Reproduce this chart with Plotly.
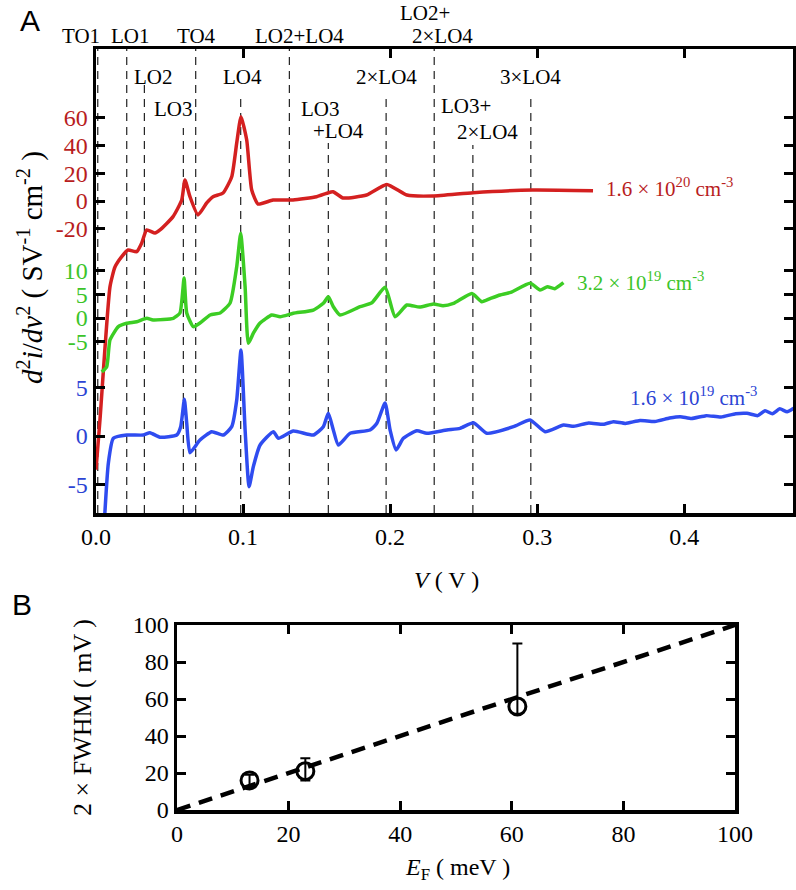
import plotly.graph_objects as go

W, H = 796, 890

# ---------------- Panel A data (physical units) ----------------
V_red = [0.0, 0.0027, 0.0095, 0.0129, 0.0175, 0.0218, 0.0277, 0.0311, 0.0345, 0.0401, 0.0435,
         0.0524, 0.0583, 0.0605, 0.0639, 0.0694, 0.0753, 0.0796, 0.0864, 0.0923, 0.0957, 0.0986,
         0.1025, 0.1059, 0.1102, 0.1204, 0.134, 0.150, 0.157, 0.1612, 0.168, 0.184, 0.1978,
         0.2114, 0.229, 0.2565, 0.297, 0.338]
I_red = [-194, -158, -62, -47.7, -40.2, -35.4, -36.6, -30.3, -20.9, -23.1, -20.9,
         -11.3, 0.7, 15.2, 3.1, -10.1, -1.4, 3.1, 5.8, 17.5, 41.9, 60.9,
         44, 7.9, -2.2, 0.7, 0.7, 3.1, 5.6, 6.7, 2.2, 4.3, 12,
         4.3, 3.6, 6.0, 7.9, 7.4]

V_green = [0.0039, 0.0073, 0.0095, 0.0152, 0.0209, 0.0277, 0.0345, 0.0388, 0.0526, 0.0571, 0.0599,
           0.0617, 0.0662, 0.0707, 0.0776, 0.0844, 0.0912, 0.0957, 0.0984, 0.1014, 0.1036, 0.1071,
           0.1116, 0.1195, 0.1252, 0.1342, 0.1478, 0.1546, 0.158, 0.1614, 0.166, 0.1796, 0.1876,
           0.1966, 0.2034, 0.2114, 0.22, 0.2295, 0.236, 0.2431, 0.2556, 0.2624, 0.268, 0.2748,
           0.282, 0.2952, 0.302, 0.307, 0.312, 0.3179]
I_green = [-11.4, -10.3, -4.65, -1.84, -1.12, -0.78, -0.06, -0.42, -0.06, 1.06, 8.46,
           1.06, -1.84, -1.06, 0.63, 1.06, 3.17, 10.85, 17.9, 6.6, -5.35, -3.17,
           -1.06, 0.63, 0.27, 0.99, 1.69, 3.1, 4.5, 2.39, 0.63, 2.39, 3.23,
           6.5, 0.27, 2.75, 2.3, 2.96, 2.6, 3.1, 5.2, 3.45, 4.1, 4.86,
           5.4, 7.34, 5.92, 6.6, 6.2, 7.46]

V_blue = [0.0045, 0.0084, 0.0118, 0.0209, 0.0322, 0.0367, 0.0435, 0.0549, 0.0576, 0.0601, 0.0617,
          0.0639, 0.0707, 0.0787, 0.0866, 0.0923, 0.0957, 0.0986, 0.1014, 0.1041, 0.107, 0.1116,
          0.1206, 0.124, 0.1342, 0.1478, 0.1546, 0.158, 0.1614, 0.1648, 0.1728, 0.1864, 0.191,
          0.1966, 0.2, 0.2041, 0.209, 0.2182, 0.225, 0.2386, 0.2476, 0.2567, 0.2658, 0.2839,
          0.2952, 0.3054, 0.3179, 0.325, 0.335, 0.345, 0.3519, 0.36, 0.37, 0.38, 0.39, 0.3973,
          0.405, 0.415, 0.425, 0.435, 0.4427, 0.45, 0.455, 0.46, 0.465, 0.47, 0.4744]
I_blue = [-12, -2.81, -0.24, 0.1, 0.1, 0.34, -0.13, 0.1, 0.96, 3.78, 1.31,
          -1.72, -0.41, 0.44, 0.1, 0.96, 3.71, 8.87, 0.62, -5.23, -3.16, -0.93,
          0.44, -0.24, 0.52, 0.1, 0.96, 2.34, 0.62, -0.93, 0.28, 0.62, 1.31,
          3.4, 0.62, -1.44, -0.24, 0.55, 0.28, 0.62, 0.79, 1.37, 0.28, 0.96,
          1.65, 0.44, 1.13, 1.0, 1.35, 1.2, 1.47, 1.3, 1.6, 1.5, 1.85, 1.99,
          1.8, 2.1, 1.95, 2.3, 2.34, 2.1, 2.6, 2.3, 2.8, 2.5, 2.86]

series_labels = ["1.6 × 10<sup>20</sup> cm<sup>-3</sup>",
                 "3.2 × 10<sup>19</sup> cm<sup>-3</sup>",
                 "1.6 × 10<sup>19</sup> cm<sup>-3</sup>"]
red_ticks = [-20, 0, 20, 40, 60]
green_ticks = [-5, 0, 5, 10]
blue_ticks = [-5, 0, 5]

# phonon mode energies (V) and labels
mode_V = [0.0012, 0.0209, 0.0329, 0.0594, 0.0678, 0.0984, 0.1315, 0.158, 0.1973, 0.23, 0.2563, 0.2957]
mode_names = ["TO1", "LO1", "LO2", "LO3", "TO4", "LO4", "LO2+LO4", "LO3+LO4", "2×LO4",
              "LO2+2×LO4", "LO3+2×LO4", "3×LO4"]

x_ticks_A = [0.0, 0.1, 0.2, 0.3, 0.4]

# ---------------- Panel B data ----------------
EF = [13, 23, 61]
FWHM2 = [16, 21, 56]
err_up = [3, 7, 34]
err_down = [3, 5, 4]
fit_x = [0, 100]
fit_y = [0, 100]

# ---------------- styling / layout ----------------
FONT = "Liberation Serif"
SANS = "Liberation Sans"
C_RED, C_RED_T = "#d42020", "#b81d1d"
C_GRN, C_GRN_T = "#3ccd24", "#3cc42a"
C_BLU, C_BLU_T = "#2f4cf0", "#2c44d4"

# vertical stacking of the three spectra (plot units = pixels above bottom axis)
stack = {"red": (312, 1.385), "green": (195, 4.73), "blue": (77, 9.7)}
Y_TOP = 464

def tr(vals, key):
    b, s = stack[key]
    return [b + s * v for v in vals]

def px(x):
    return x / W

def py(y):
    return 1 - y / H

fig = go.Figure()

for V, I, key, col in [(V_red, I_red, "red", C_RED), (V_green, I_green, "green", C_GRN),
                       (V_blue, I_blue, "blue", C_BLU)]:
    fig.add_trace(go.Scatter(x=V, y=tr(I, key), mode="lines",
                             line=dict(color=col, width=3.5, shape="spline", smoothing=0.5),
                             xaxis="x", yaxis="y", showlegend=False, hoverinfo="skip"))

# dashed mode lines (top of each line in plot units)
mode_tops = [Y_TOP, Y_TOP, 428, 385, Y_TOP, 418, Y_TOP, 370, 418, Y_TOP, 368, 418]
shapes = []
for mv, top in zip(mode_V, mode_tops):
    shapes.append(dict(type="line", xref="x", yref="y", x0=mv, x1=mv, y0=0, y1=top,
                       line=dict(color="#222222", width=1.2, dash="8px,6px"), layer="below"))

# Panel B
fig.add_trace(go.Scatter(x=fit_x, y=fit_y, mode="lines", xaxis="x2", yaxis="y2",
                         line=dict(color="black", width=4.5, dash="14px,9px"),
                         showlegend=False, hoverinfo="skip"))
fig.add_trace(go.Scatter(x=EF, y=FWHM2, mode="markers", xaxis="x2", yaxis="y2",
                         marker=dict(symbol="circle-open", size=17, color="black",
                                     line=dict(width=3, color="black")),
                         error_y=dict(type="data", symmetric=False, array=err_up,
                                      arrayminus=err_down, color="black", thickness=2, width=5),
                         showlegend=False, hoverinfo="skip"))

# colored tick labels for panel A
tickvals, ticktext = [], []
for ticks, key, col in [(red_ticks, "red", C_RED_T), (green_ticks, "green", C_GRN_T),
                        (blue_ticks, "blue", C_BLU_T)]:
    for t in ticks:
        tickvals.append(tr([t], key)[0])
        ticktext.append(f'<span style="color:{col}">{t}</span>')

axis_common = dict(showline=True, linecolor="black", linewidth=3.5, ticks="inside",
                   ticklen=9, tickwidth=3, tickcolor="black", mirror="allticks",
                   showgrid=False, zeroline=False, automargin=False,
                   tickfont=dict(family=FONT, size=24, color="black"))

ann = []
def label(text, x, y, size=21, color="black", xanchor="center", family=FONT, angle=0):
    ann.append(dict(text=text, x=px(x), y=py(y), xref="paper", yref="paper",
                    showarrow=False, xanchor=xanchor, yanchor="middle", textangle=angle,
                    font=dict(family=family, size=size, color=color)))

mode_label_pos = [("TO1", 81, 36), ("LO1", 130, 36), ("TO4", 196, 36), ("LO2+LO4", 299, 36),
                  ("LO2+", 425, 13), ("2×LO4", 442, 36), ("LO2", 153, 77), ("LO4", 242, 77),
                  ("2×LO4", 386, 77), ("3×LO4", 530, 77), ("LO3", 173, 109), ("LO3", 320, 109),
                  ("+LO4", 338, 131), ("LO3+", 466, 106), ("2×LO4", 487, 132)]
for t, x, y in mode_label_pos:
    label(t, x, y)

label(series_labels[0], 604, 188, size=21, color=C_RED_T, xanchor="left")
label(series_labels[1], 575, 281, size=21, color=C_GRN_T, xanchor="left")
label(series_labels[2], 628, 396, size=21, color=C_BLU_T, xanchor="left")

label("<i>V</i> ( V )", 446, 580, size=24)
label("<i>d</i><sup>2</sup><i>i</i>/<i>dv</i><sup>2</sup> ( SV<sup>-1</sup> cm<sup>-2</sup> )",
      30, 268, size=29, angle=-90)
label("<i>E</i><sub>F</sub> ( meV )", 457, 869, size=24)
label("2 × FWHM ( mV )", 82, 718, size=26, angle=-90)
label("A", 30, 20, size=30, family=SANS)
label("B", 22, 604, size=30, family=SANS)

fig.update_layout(
    width=W, height=H, margin=dict(l=0, r=0, t=0, b=0),
    paper_bgcolor="white", plot_bgcolor="white",
    font=dict(family=FONT, size=21, color="black"),
    xaxis=dict(domain=[px(96), px(793)], range=[0, 0.474], tickvals=x_ticks_A,
               ticktext=[f"{v:.1f}" for v in x_ticks_A], anchor="y", **axis_common),
    yaxis=dict(domain=[py(513), py(49)], range=[0, Y_TOP], tickvals=tickvals,
               ticktext=ticktext, anchor="x", **axis_common),
    xaxis2=dict(domain=[px(177), px(735)], range=[0, 100], dtick=20, anchor="y2",
                **axis_common),
    yaxis2=dict(domain=[py(810), py(625)], range=[0, 100], dtick=20, anchor="x2",
                **axis_common),
    shapes=shapes, annotations=ann,
)

fig.write_html("out.html", config={"displayModeBar": False, "staticPlot": True},
               post_script="document.body.style.margin='0px';")
